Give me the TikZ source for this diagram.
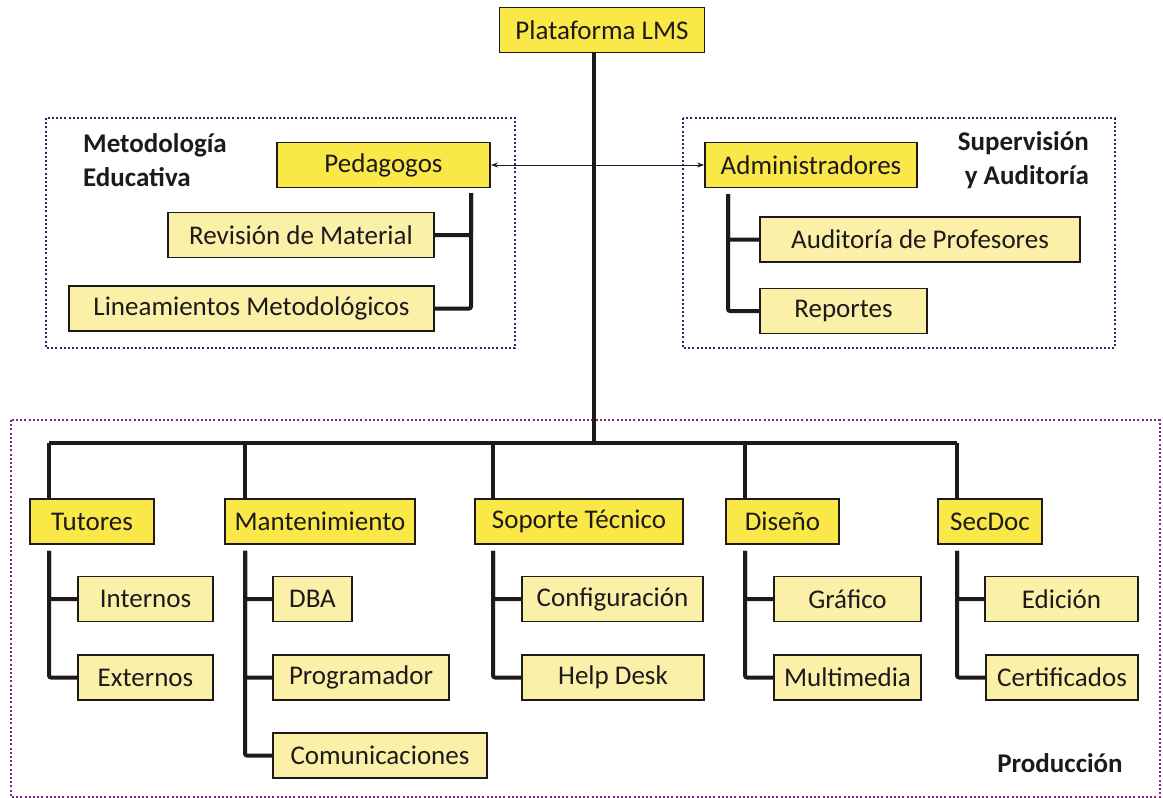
\documentclass[tikz,border=0pt]{standalone}
\usepackage{fontspec}
\setmainfont{Carlito}
\usetikzlibrary{arrows.meta}
\definecolor{jefe}{RGB}{250,232,72}
\definecolor{sub}{RGB}{250,240,168}
\definecolor{linea}{RGB}{30,26,28}
\definecolor{marco}{RGB}{40,40,100}
\definecolor{prod}{RGB}{130,40,125}
\tikzset{
  cargo/.style={draw=linea, line width=1.8pt, fill=jefe, inner sep=0pt, minimum width=#1,
                minimum height=45pt, text=linea, font=\fontsize{27}{27}\selectfont},
  cargo/.default=120pt,
  tarea/.style={cargo=#1, fill=sub},
  tarea/.default=120pt,
  rama/.style={draw=linea, line width=4pt, rounded corners=2pt},
  grupo/.style={draw=#1, line width=2.2pt, dash pattern=on 2pt off 2.2pt},
  rotulo/.style={text=linea, font=\fontsize{27}{34}\selectfont\bfseries, inner sep=0pt},
  flecha/.style={draw=linea, line width=1pt, {Stealth[length=7pt,width=5pt]}-{Stealth[length=7pt,width=5pt]}},
}

\begin{document}
\begin{tikzpicture}[x=1pt,y=-1pt]
  \useasboundingbox (0,0) rectangle (1163,798);
  % marcos de las areas
  \draw[grupo=marco] (46,118) rectangle (515,348);
  \draw[grupo=marco] (683,118) rectangle (1115,348);
  \draw[grupo=prod] (11,420) rectangle (1160,797);

  \node[rotulo, align=left, anchor=west] (met) at (83,160) {Metodología\\Educativa};
  \node[rotulo, align=right, anchor=east] (sup) at (1089,160) {Supervisión\\y Auditoría};
  \node[rotulo] (prd) at (1060,763) {Producción};

  % raiz y tronco
  \node[cargo=205pt] (lms) at (602,30) {Plataforma LMS};
  \coordinate (hub) at (594,443);
  \draw[rama] (lms.south -| hub) -- (hub);

  % metodologia / supervision
  \node[cargo=213pt] (ped) at (383.5,165) {Pedagogos};
  \node[cargo=212pt] (adm) at (811,165) {Administradores};
  \draw[flecha] (ped) -- (adm);
  \node[tarea=266pt] (rev) at (301,235) {Revisión de Material};
  \node[tarea=365pt] (lin) at (251.5,308.5) {Lineamientos Metodológicos};
  \node[tarea=320pt] (aud) at (920,239.5) {Auditoría de Profesores};
  \node[tarea=167pt] (rep) at (843.5,311) {Reportes};
  \coordinate (ped-b) at (471,187);
  \coordinate (adm-b) at (728,188);
  \foreach \p/\n/\s in {ped/rev/east, ped/lin/east, adm/aud/west, adm/rep/west}
    \draw[rama, shorten <=6pt] (\p-b) |- (\n.\s);

  % produccion: jefaturas
  \foreach \n/\x/\w/\cx/\t in {tut/92/124pt/49/Tutores, man/320/190pt/245/Mantenimiento,
      sop/579/208pt/493/Soporte Técnico, dis/782.5/113pt/745/Diseño, sec/990/104pt/957/SecDoc}{
    \node[cargo=\w] (\n) at (\x,521.5) {\t};
    \coordinate (\n-b) at (\cx,443);
    \draw[rama] (\n-b) -- (\n-b |- \n.north);
  }
  \draw[rama] (tut-b) -- (sec-b);

  % produccion: equipos
  \foreach \n/\p/\x/\y/\w/\t in {int/tut/145.5/599/135pt/Internos, ext/tut/145.5/677.5/135pt/Externos,
      dba/man/312.5/599/79pt/DBA, pro/man/361/677.5/176pt/Programador,
      com/man/380/755.5/214pt/Comunicaciones,
      cfg/sop/612.5/599/181pt/Configuración, hd/sop/613/677.5/182pt/Help Desk,
      gra/dis/847.5/599/147pt/Gráfico, mul/dis/847.5/677.5/147pt/Multimedia,
      edi/sec/1061.5/599/153pt/Edición, cer/sec/1062/677.5/152pt/Certificados}{
    \node[tarea=\w] (\n) at (\x,\y) {\t};
    \draw[rama, shorten <=6pt] (\p-b |- \p.south) |- (\n.west);
  }
\end{tikzpicture}
\end{document}
